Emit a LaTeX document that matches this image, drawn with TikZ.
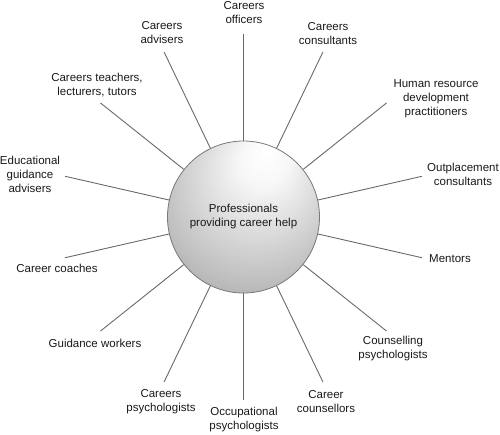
\documentclass[tikz,border=0pt]{standalone}
\usepackage{fontspec}
\setmainfont{Liberation Sans}
\usetikzlibrary{calc}
\pgfdeclareradialshading{hubshade}{\pgfpoint{8bp}{22bp}}{%
  color(0bp)=(white); color(8bp)=(white!97!black); color(30bp)=(white!75!black); color(50bp)=(white!52!black)}
\definecolor{spokegray}{RGB}{105,105,105}
\definecolor{rimgray}{RGB}{120,120,120}
\definecolor{txt}{RGB}{25,25,25}
\tikzset{
  hubnode/.style={circle, minimum size=152pt, inner sep=0pt, shading=hubshade, draw=rimgray, line width=0.8pt, align=center, text=txt, font=\fontsize{11.5}{14}\selectfont},
  lbl/.style={align=center, inner sep=0pt, text=txt, font=\fontsize{11.5}{14}\selectfont},
  spoke/.style={draw=spokegray, line width=0.9pt}
}
\begin{document}
\begin{tikzpicture}[x=1pt,y=-1pt]
\useasboundingbox (0,0) rectangle (500,434);
\node[hubnode] (hub) at (243.5,217) {Professionals\\providing career help};
% spoke ends
\foreach \k in {0,...,13} {
  \coordinate (e\k) at ($(hub.center)+({-90+\k*360/14}:183)$);
}
\foreach \k in {0,...,13} {
  \draw[spoke] (hub) -- (e\k);
}
\node[lbl] (l0) at (244,12.5) {Careers\\officers};
\node[lbl] (l1) at (328,34) {Careers\\consultants};
\node[lbl] (l2) at (436,99) {Human resource\\development\\practitioners};
\node[lbl] (l3) at (463,174.5) {Outplacement\\consultants};
\node[lbl] (l4) at (450,259) {Mentors};
\node[lbl] (l5) at (393,349) {Counselling\\psychologists};
\node[lbl] (l6) at (326,401.5) {Career\\counsellors};
\node[lbl] (l7) at (244,420) {Occupational\\psychologists};
\node[lbl] (l8) at (161,401.5) {Careers\\psychologists};
\node[lbl] (l9) at (95,343) {Guidance workers};
\node[lbl] (l10) at (57,268) {Career coaches};
\node[lbl] (l11) at (30,174.5) {Educational\\guidance\\advisers};
\node[lbl] (l12) at (97,85) {Careers teachers,\\lecturers, tutors};
\node[lbl] (l13) at (162,33) {Careers\\advisers};
\end{tikzpicture}
\end{document}
